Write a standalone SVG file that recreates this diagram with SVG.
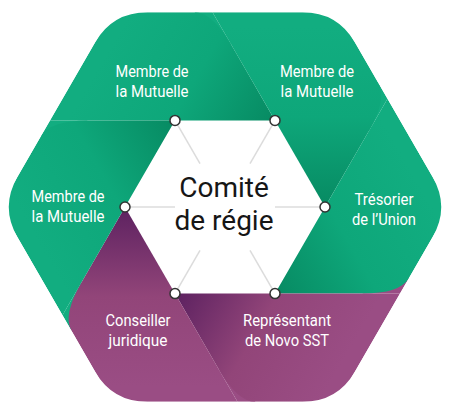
<svg xmlns="http://www.w3.org/2000/svg" width="450" height="414" viewBox="0 0 450 414">
<style>
.lbl{font-family:Roboto,"Liberation Sans",sans-serif;font-size:17px;fill:#fff;text-anchor:middle;}
.core{font-family:Roboto,"Liberation Sans",sans-serif;font-size:28px;fill:#161616;text-anchor:middle;}
.spoke{stroke:#dcdcdc;stroke-width:1.5;fill:none;}
.dot{fill:#fff;stroke:#333;stroke-width:1.5;}
</style>
<defs>
<clipPath id="outer">
<path d="M147.5,12.14 L302.5,12.14 Q337.5,12.14 355,42.45 L432.5,176.69 Q450,207 432.5,237.31 L355,371.55 Q337.5,401.86 302.5,401.86 L147.5,401.86 Q112.5,401.86 95,371.55 L17.5,237.31 Q0,207 17.5,176.69 L95,42.45 Q112.5,12.14 147.5,12.14 Z"/>
</clipPath>
<linearGradient id="gTL" gradientUnits="userSpaceOnUse" x1="120" y1="30" x2="275" y2="120.4"><stop offset="0" stop-color="#12ad80"/><stop offset="0.5" stop-color="#0ea77a"/><stop offset="1" stop-color="#078a62"/></linearGradient>
<linearGradient id="gTR" gradientUnits="userSpaceOnUse" x1="325.8" y1="27.6" x2="325" y2="207"><stop offset="0" stop-color="#12ad80"/><stop offset="0.5" stop-color="#0ea77a"/><stop offset="1" stop-color="#078a62"/></linearGradient>
<linearGradient id="gR" gradientUnits="userSpaceOnUse" x1="430.8" y1="204.6" x2="275" y2="293.6"><stop offset="0" stop-color="#12ad80"/><stop offset="0.5" stop-color="#0ea77a"/><stop offset="1" stop-color="#078a62"/></linearGradient>
<linearGradient id="gL" gradientUnits="userSpaceOnUse" x1="19.2" y1="209.4" x2="175" y2="120.4"><stop offset="0" stop-color="#12ad80"/><stop offset="0.5" stop-color="#0ea77a"/><stop offset="1" stop-color="#078a62"/></linearGradient>
<linearGradient id="gBR" gradientUnits="userSpaceOnUse" x1="330" y1="384" x2="175" y2="293.6"><stop offset="0" stop-color="#9a4d84"/><stop offset="0.5" stop-color="#924579"/><stop offset="1" stop-color="#5c2160"/></linearGradient>
<linearGradient id="gBL" gradientUnits="userSpaceOnUse" x1="124.2" y1="386.4" x2="125" y2="207"><stop offset="0" stop-color="#9a4d84"/><stop offset="0.5" stop-color="#924579"/><stop offset="1" stop-color="#5c2160"/></linearGradient>
</defs>
<rect width="450" height="414" fill="#fff"/>
<g clip-path="url(#outer)">
<g id="underlays">
<path d="M231.5,45.05 L212.5,12.14 L194.5,12.14 Z" fill="url(#gTR)"/>
<path d="M368.5,131.66 L387.5,98.75 L378.5,83.16 Z" fill="url(#gR)"/>
<path d="M362,293.6 L400,293.6 L409,278.01 Z" fill="url(#gBR)"/>
<path d="M218.5,368.95 L237.5,401.86 L255.5,401.86 Z" fill="url(#gBL)"/>
<path d="M81.5,282.34 L62.5,315.25 L71.5,330.84 Z" fill="url(#gL)"/>
<path d="M88,120.4 L50,120.4 L41,135.99 Z" fill="url(#gTL)"/>
</g>
<g id="node-top-left"><path d="M175,120.4 L275,120.4 L231.5,45.05 Q212.5,12.14 194.5,12.14 L112.5,12.14 L50,120.4 Z" fill="url(#gTL)"/></g>
<g id="node-top-right"><path d="M275,120.4 L325,207 L368.5,131.66 Q387.5,98.75 378.5,83.16 L337.5,12.14 L212.5,12.14 Z" fill="url(#gTR)"/></g>
<g id="node-right"><path d="M325,207 L275,293.6 L362,293.6 Q400,293.6 409,278.01 L450,207 L387.5,98.75 Z" fill="url(#gR)"/></g>
<g id="node-bottom-right"><path d="M275,293.6 L175,293.6 L218.5,368.95 Q237.5,401.86 255.5,401.86 L337.5,401.86 L400,293.6 Z" fill="url(#gBR)"/></g>
<g id="node-bottom-left"><path d="M175,293.6 L125,207 L81.5,282.34 Q62.5,315.25 71.5,330.84 L112.5,401.86 L237.5,401.86 Z" fill="url(#gBL)"/></g>
<g id="node-left"><path d="M125,207 L175,120.4 L88,120.4 Q50,120.4 41,135.99 L0,207 L62.5,315.25 Z" fill="url(#gL)"/></g>
</g>
<g id="labels">
<text class="lbl" x="152" y="77" textLength="73" lengthAdjust="spacingAndGlyphs">Membre de</text><text class="lbl" x="152" y="97" textLength="73" lengthAdjust="spacingAndGlyphs">la Mutuelle</text>
<text class="lbl" x="317" y="77" textLength="74" lengthAdjust="spacingAndGlyphs">Membre de</text><text class="lbl" x="317" y="97" textLength="73" lengthAdjust="spacingAndGlyphs">la Mutuelle</text>
<text class="lbl" x="384" y="205" textLength="59" lengthAdjust="spacingAndGlyphs">Trésorier</text><text class="lbl" x="384" y="225" textLength="64" lengthAdjust="spacingAndGlyphs">de l’Union</text>
<text class="lbl" x="287" y="326" textLength="88" lengthAdjust="spacingAndGlyphs">Représentant</text><text class="lbl" x="287" y="346" textLength="84" lengthAdjust="spacingAndGlyphs">de Novo SST</text>
<text class="lbl" x="138" y="326" textLength="65" lengthAdjust="spacingAndGlyphs">Conseiller</text><text class="lbl" x="138" y="346" textLength="59" lengthAdjust="spacingAndGlyphs">juridique</text>
<text class="lbl" x="68" y="202" textLength="73" lengthAdjust="spacingAndGlyphs">Membre de</text><text class="lbl" x="68" y="222" textLength="73" lengthAdjust="spacingAndGlyphs">la Mutuelle</text>
</g>
<g id="connectors">
<line class="spoke" x1="175" y1="120.4" x2="200" y2="163.7"/>
<line class="spoke" x1="275" y1="120.4" x2="250" y2="163.7"/>
<line class="spoke" x1="325" y1="207" x2="275" y2="207"/>
<line class="spoke" x1="275" y1="293.6" x2="250" y2="250.3"/>
<line class="spoke" x1="175" y1="293.6" x2="200" y2="250.3"/>
<line class="spoke" x1="125" y1="207" x2="175" y2="207"/>
<circle class="dot" cx="175" cy="120.4" r="5"/>
<circle class="dot" cx="275" cy="120.4" r="5"/>
<circle class="dot" cx="325" cy="207" r="5"/>
<circle class="dot" cx="275" cy="293.6" r="5"/>
<circle class="dot" cx="175" cy="293.6" r="5"/>
<circle class="dot" cx="125" cy="207" r="5"/>
</g>
<g id="node-center">
<text class="core" x="224" y="197">Comité</text>
<text class="core" x="224" y="230">de régie</text>
</g>
</svg>
